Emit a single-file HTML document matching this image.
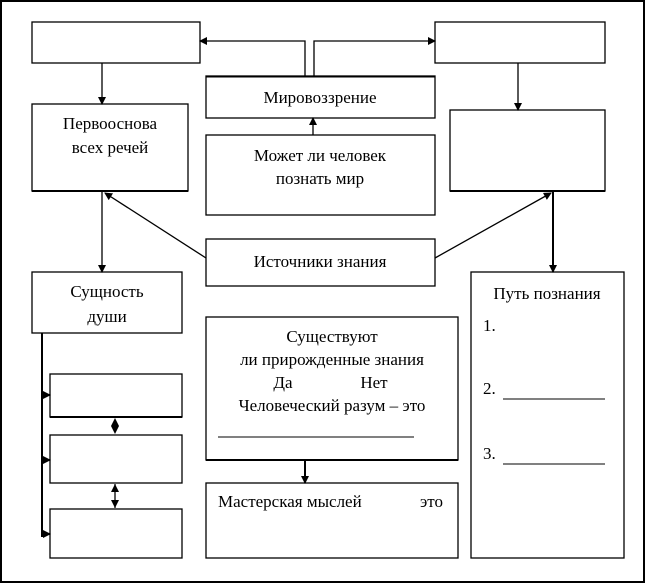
<!DOCTYPE html>
<html><head><meta charset="utf-8"><style>
html,body{margin:0;padding:0;background:#fff}
svg{display:block}
text{font-family:"Liberation Serif",serif;font-size:17px;fill:#000}
</style></head><body>
<svg width="645" height="584" viewBox="0 0 645 584" xmlns="http://www.w3.org/2000/svg">
<defs>
<marker id="a" markerWidth="8" markerHeight="8" refX="7" refY="4" orient="auto" markerUnits="userSpaceOnUse">
<path d="M0,0 L8,4 L0,8 z" fill="#000"/></marker>
</defs>
<rect x="1" y="1" width="643" height="581" fill="#fff" stroke="#000" stroke-width="2"/>
<g fill="#fff" stroke="#000" stroke-width="1.3">
<rect x="32" y="22" width="168" height="41"/>
<rect x="435" y="22" width="170" height="41"/>
<rect x="206" y="76" width="229" height="42"/>
<rect x="32" y="104" width="156" height="87"/>
<rect x="206" y="135" width="229" height="80"/>
<rect x="450" y="110" width="155" height="81"/>
<rect x="206" y="239" width="229" height="47"/>
<rect x="32" y="272" width="150" height="61"/>
<rect x="471" y="272" width="153" height="286"/>
<rect x="206" y="317" width="252" height="143"/>
<rect x="206" y="483" width="252" height="75"/>
<rect x="50" y="374" width="132" height="43"/>
<rect x="50" y="435" width="132" height="48"/>
<rect x="50" y="509" width="132" height="49"/>
</g>
<g stroke="#000" stroke-width="2">
<line x1="206" y1="76.5" x2="435" y2="76.5"/>
<line x1="32" y1="191" x2="188" y2="191"/>
<line x1="450" y1="191" x2="605" y2="191"/>
<line x1="50" y1="417" x2="182" y2="417"/>
<line x1="206" y1="460" x2="458" y2="460"/>
</g>
<g stroke="#000" stroke-width="1.3" fill="none">
<polyline points="305,76 305,41 200,41" marker-end="url(#a)"/>
<polyline points="314,76 314,41 435,41" marker-end="url(#a)"/>
<line x1="313" y1="135" x2="313" y2="118" marker-end="url(#a)"/>
<line x1="102" y1="63" x2="102" y2="104" marker-end="url(#a)"/>
<line x1="518" y1="63" x2="518" y2="110" marker-end="url(#a)"/>
<line x1="206" y1="258" x2="105" y2="193" marker-end="url(#a)"/>
<line x1="435" y1="258" x2="551" y2="193" marker-end="url(#a)"/>
<line x1="102" y1="191" x2="102" y2="272" marker-end="url(#a)"/>
</g>
<g stroke="#000" stroke-width="2" fill="none">
<line x1="553" y1="191" x2="553" y2="272" marker-end="url(#a)"/>
<line x1="305" y1="460" x2="305" y2="483" marker-end="url(#a)"/>
<line x1="42" y1="333" x2="42" y2="537"/>
<line x1="42" y1="395" x2="50" y2="395" marker-end="url(#a)"/>
<line x1="42" y1="460" x2="50" y2="460" marker-end="url(#a)"/>
<line x1="42" y1="534" x2="50" y2="534" marker-end="url(#a)"/>
</g>
<path d="M115,418 L119,426 L115,434 L111,426 z" fill="#000"/>
<line x1="115" y1="484" x2="115" y2="508" stroke="#000" stroke-width="1.3"/>
<path d="M115,484 L119,492 L111,492 z M115,508 L119,500 L111,500 z" fill="#000"/>
<g text-anchor="middle">
<text x="320" y="103">Мировоззрение</text>
<text x="110" y="129">Первооснова</text>
<text x="110" y="153">всех речей</text>
<text x="320" y="161">Может ли человек</text>
<text x="320" y="184">познать мир</text>
<text x="320" y="267">Источники знания</text>
<text x="107" y="297">Сущность</text>
<text x="107" y="322">души</text>
<text x="547" y="299">Путь познания</text>
<text x="332" y="342">Существуют</text>
<text x="332" y="365">ли прирожденные знания</text>
<text x="283" y="388">Да</text>
<text x="374" y="388">Нет</text>
<text x="332" y="411">Человеческий разум – это</text>
</g>
<text x="483" y="331">1.</text>
<text x="483" y="394">2.</text>
<text x="483" y="459">3.</text>
<text x="218" y="507">Мастерская мыслей</text>
<text x="420" y="507">это</text>
<g stroke="#000" stroke-width="1">
<line x1="503" y1="399" x2="605" y2="399"/>
<line x1="503" y1="464" x2="605" y2="464"/>
<line x1="218" y1="437" x2="414" y2="437"/>
</g>
</svg>
</body></html>
